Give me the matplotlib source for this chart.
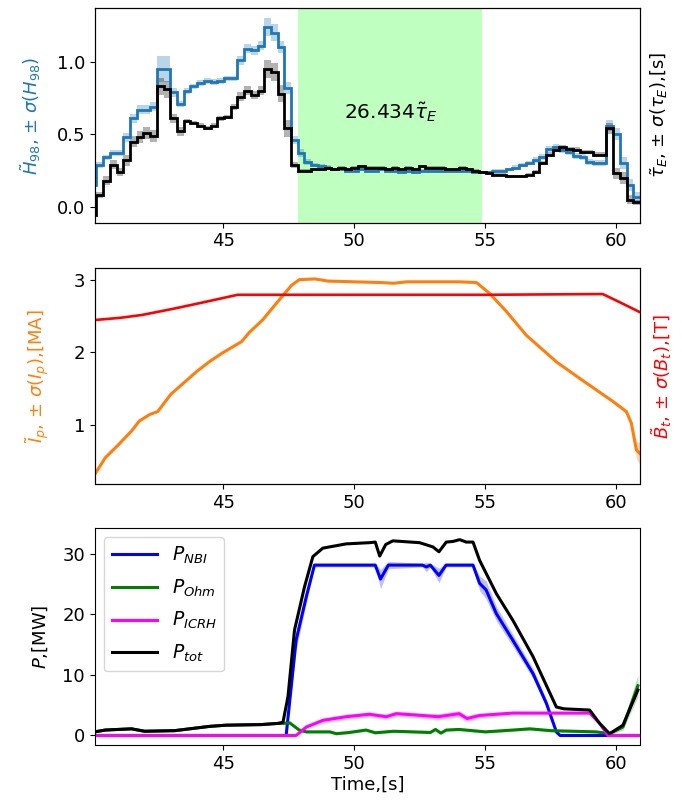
import numpy as np
import matplotlib
matplotlib.use("Agg")
import matplotlib.pyplot as plt

# ---------------- top panel: H98 and tau_E (step data on a 0.256 s grid)
t_edges = 39.908 + 0.256 * np.arange(83)

h98 = [0.15, 0.29, 0.34, 0.37, 0.37, 0.48, 0.61, 0.67, 0.67, 0.69, 0.95, 0.95, 0.79, 0.71, 0.80, 0.83,
       0.855, 0.87, 0.86, 0.87, 0.885, 0.885, 1.01, 1.09, 1.08, 1.11, 1.24, 1.20, 1.10, 0.82, 0.46, 0.37,
       0.31, 0.29, 0.28, 0.27,
       0.26, 0.26, 0.25, 0.25, 0.26, 0.25, 0.25, 0.26, 0.25, 0.25, 0.24, 0.25, 0.24, 0.25, 0.25, 0.25,
       0.25, 0.25, 0.25, 0.25, 0.25, 0.24, 0.24,
       0.24, 0.25, 0.25, 0.26, 0.27, 0.29, 0.30, 0.32, 0.345, 0.40, 0.41, 0.39, 0.38, 0.35, 0.345, 0.31,
       0.30, 0.30, 0.56, 0.50, 0.30, 0.15, 0.07]
h98_sig = [0.02, 0.02, 0.02, 0.02, 0.02, 0.03, 0.03, 0.03, 0.03, 0.03, 0.09, 0.09, 0.03, 0.02, 0.02, 0.02,
           0.02, 0.02, 0.02, 0.02, 0.02, 0.02, 0.03, 0.03, 0.03, 0.03, 0.06, 0.06, 0.04, 0.04, 0.03, 0.03,
           0.02, 0.015, 0.015, 0.015,
           0.01, 0.01, 0.01, 0.01, 0.01, 0.01, 0.01, 0.01, 0.01, 0.01, 0.01, 0.01, 0.01, 0.01, 0.01, 0.01,
           0.01, 0.01, 0.01, 0.01, 0.01, 0.01, 0.01,
           0.01, 0.01, 0.01, 0.01, 0.015, 0.015, 0.015, 0.02, 0.02, 0.02, 0.02, 0.02, 0.02, 0.02, 0.02, 0.02,
           0.02, 0.02, 0.04, 0.04, 0.04, 0.04, 0.03]
tau_e = [-0.06, 0.08, 0.18, 0.29, 0.24, 0.32, 0.45, 0.48, 0.51, 0.49, 0.83, 0.81, 0.61, 0.52, 0.59, 0.58,
         0.56, 0.545, 0.56, 0.61, 0.62, 0.69, 0.76, 0.80, 0.77, 0.80, 0.95, 0.93, 0.78, 0.54, 0.29, 0.25,
         0.25, 0.26, 0.26, 0.27, 0.26, 0.27, 0.26, 0.27, 0.28, 0.27, 0.27, 0.27, 0.26, 0.27, 0.26, 0.27,
         0.26, 0.28, 0.27, 0.27, 0.27, 0.26, 0.26, 0.27, 0.26, 0.25, 0.24,
         0.23, 0.22, 0.22, 0.21, 0.21, 0.21, 0.22, 0.24, 0.30, 0.36, 0.39, 0.41, 0.40, 0.395, 0.38, 0.38,
         0.36, 0.36, 0.54, 0.23, 0.20, 0.05, 0.03]
tau_sig = [0.02, 0.02, 0.03, 0.03, 0.03, 0.04, 0.04, 0.04, 0.04, 0.04, 0.06, 0.06, 0.03, 0.03, 0.015, 0.015,
           0.015, 0.015, 0.015, 0.015, 0.015, 0.02, 0.03, 0.03, 0.03, 0.03, 0.06, 0.06, 0.06, 0.06, 0.02, 0.01,
           0.01, 0.01, 0.01, 0.01, 0.01, 0.01, 0.01, 0.01, 0.01, 0.01, 0.01, 0.01, 0.01, 0.01, 0.01, 0.01,
           0.01, 0.01, 0.01, 0.01, 0.01, 0.01, 0.01, 0.01, 0.01, 0.01, 0.01,
           0.01, 0.01, 0.01, 0.01, 0.01, 0.01, 0.01, 0.015, 0.015, 0.015, 0.015, 0.015, 0.015, 0.015, 0.015, 0.015,
           0.02, 0.02, 0.04, 0.04, 0.04, 0.03, 0.02]

flat_start, flat_end = 47.86, 54.89
flat_label = r'$26.434\tilde{\tau}_E$'

# ---------------- middle panel: plasma current and toroidal field
t_ip = [40.1, 40.5, 41.0, 41.5, 41.8, 42.2, 42.5, 43.0, 43.5, 44.0, 44.5, 45.0, 45.7, 46.0, 46.5, 47.0,
        47.3, 47.6, 47.9, 48.5, 49.0, 50.0, 51.0, 51.5, 52.0, 53.0, 54.0, 54.66, 55.16, 55.8, 56.56, 57.71,
        58.6, 59.87, 60.38, 60.57, 60.76, 60.89]
ip = [0.31, 0.54, 0.72, 0.91, 1.05, 1.14, 1.18, 1.42, 1.58, 1.74, 1.88, 2.0, 2.15, 2.28, 2.45, 2.67,
      2.80, 2.93, 3.01, 3.02, 2.99, 2.98, 2.97, 2.96, 2.98, 2.98, 2.98, 2.97, 2.82, 2.57, 2.24, 1.87,
      1.64, 1.32, 1.18, 1.02, 0.65, 0.60]
ip_sig = [0.01, 0.01, 0.01, 0.01, 0.01, 0.01, 0.01, 0.01, 0.01, 0.01, 0.01, 0.01, 0.01, 0.01, 0.01, 0.01,
          0.01, 0.01, 0.01, 0.01, 0.01, 0.01, 0.01, 0.01, 0.01, 0.01, 0.01, 0.01, 0.01, 0.01, 0.01, 0.01,
          0.01, 0.02, 0.03, 0.05, 0.12, 0.15]

t_bt = [40.1, 41.06, 41.9, 43.15, 44.3, 45.55, 50.0, 55.0, 59.48, 60.11, 60.89]
bt = [2.45, 2.48, 2.52, 2.61, 2.70, 2.80, 2.80, 2.80, 2.81, 2.70, 2.56]

# ---------------- bottom panel: heating powers
t_nbi = [40.1, 47.40, 47.78, 48.17, 48.48, 50.8, 51.0, 51.3, 52.6, 52.75, 52.9, 53.23, 53.5, 54.53,
         54.78, 55.03, 55.42, 56.05, 56.82, 57.33, 57.71, 57.85, 60.89]
p_nbi = [0, 0, 15.7, 22.9, 28.1, 28.1, 25.8, 28.1, 28.1, 27.8, 28.1, 26.4, 28.1, 28.1,
         25.1, 24.0, 20.1, 15.7, 10.2, 5.3, 0.6, 0, 0]
p_nbi_sig = [0, 0, 1.5, 1.0, 0.3, 0.3, 1.6, 0.6, 0.3, 0.8, 0.3, 1.2, 0.3, 0.3,
             1.2, 1.5, 1.2, 1.0, 0.8, 0.6, 0.4, 0, 0]

t_ohm = [40.1, 40.5, 41.5, 42.0, 43.15, 44.47, 45.1, 46.45, 47.1, 47.28, 47.53, 47.9, 48.17, 49.07,
         49.32, 49.8, 50.45, 50.8, 51.5, 52.24, 52.9, 53.1, 53.3, 53.51, 54.0, 55.0, 56.05, 56.7, 57.5,
         59.23, 59.74, 60.25, 60.82]
p_ohm = [0.6, 0.9, 1.1, 0.7, 0.8, 1.5, 1.7, 1.8, 2.0, 2.0, 2.1, 0.9, 0.6, 0.6,
         0.3, 0.5, 0.9, 0.45, 0.7, 0.6, 0.5, 1.0, 0.4, 0.9, 1.0, 0.6, 0.9, 1.1, 0.8,
         0.6, 0.3, 1.4, 8.2]
p_ohm_sig = [0.1, 0.1, 0.1, 0.1, 0.1, 0.1, 0.1, 0.1, 0.1, 0.2, 0.2, 0.2, 0.2, 0.2,
             0.2, 0.2, 0.2, 0.2, 0.2, 0.2, 0.2, 0.2, 0.2, 0.2, 0.2, 0.2, 0.2, 0.2, 0.2,
             0.2, 0.2, 0.5, 1.8]

t_icrh = [40.1, 47.78, 48.17, 48.8, 49.69, 50.58, 51.22, 51.6, 52.6, 53.2, 54.0, 54.3, 54.78, 56.05,
          58.98, 59.36, 59.68, 60.89]
p_icrh = [0, 0, 1.4, 2.5, 3.1, 3.5, 3.1, 3.6, 3.3, 3.1, 3.6, 2.8, 3.3, 3.7,
          3.7, 2.0, 0.0, 0.0]
p_icrh_sig = [0, 0, 0.3, 0.4, 0.4, 0.4, 0.4, 0.4, 0.4, 0.5, 0.5, 0.5, 0.4, 0.3,
              0.2, 0.2, 0, 0]

t_tot = [40.1, 40.5, 41.5, 42.0, 43.15, 44.47, 45.1, 46.45, 47.1, 47.28, 47.47, 47.72, 48.10, 48.42,
         48.80, 49.69, 50.58, 50.8, 50.97, 51.2, 51.47, 52.49, 53.0, 53.23, 53.51, 53.76, 54.02, 54.27,
         54.53, 54.78, 55.42, 56.05, 56.82, 57.71, 58.0, 58.98, 59.36, 59.74, 60.25, 60.82]
p_tot = [0.6, 0.9, 1.1, 0.7, 0.8, 1.5, 1.7, 1.8, 2.0, 2.2, 6.4, 17.4, 24.5, 29.5,
         30.9, 31.6, 31.8, 31.9, 29.6, 31.5, 32.1, 31.8, 31.1, 30.3, 31.9, 32.0, 32.3, 31.9,
         31.9, 28.9, 23.4, 19.0, 13.0, 4.7, 4.4, 4.2, 2.0, 0.3, 1.7, 7.5]

# ------------------------------------------------------------------
plt.rcParams['font.size'] = 13
fig = plt.figure(figsize=(6.82, 8.10), dpi=100)
left, width = 0.139, 0.799
ax1 = fig.add_axes([left, 0.725, width, 0.265])
ax2 = fig.add_axes([left, 0.402, width, 0.267])
ax3 = fig.add_axes([left, 0.080, width, 0.268])
xlim = (40.1, 60.89)

# top
h98 = np.array(h98); h98_sig = np.array(h98_sig)
tau_e = np.array(tau_e); tau_sig = np.array(tau_sig)
ax1.axvspan(flat_start, flat_end, color='lime', alpha=0.25, lw=0)
ax1.stairs(h98 + h98_sig, t_edges, baseline=h98 - h98_sig, fill=True, color='tab:blue', alpha=0.3, lw=0)
ax1.stairs(tau_e + tau_sig, t_edges, baseline=tau_e - tau_sig, fill=True, color='black', alpha=0.3, lw=0)
ax1.stairs(h98, t_edges, baseline=None, color='tab:blue', lw=2)
ax1.stairs(tau_e, t_edges, baseline=None, color='black', lw=2)
ax1.text((flat_start + flat_end) / 2, 0.65, flat_label, ha='center', va='center', fontsize=14.5)
ax1.set_xlim(xlim)
ax1.set_ylim(-0.11, 1.37)
ax1.set_yticks([0.0, 0.5, 1.0])
ax1.set_ylabel(r'$\tilde{H}_{98}$, $\pm$ $\sigma(H_{98})$', color='tab:blue', labelpad=10)
ax1r = ax1.twinx()
ax1r.set_yticks([])
ax1r.set_ylabel(r'$\tilde{\tau}_E$, $\pm$ $\sigma(\tau_E)$,[s]', color='black', labelpad=6)

# middle
ip = np.array(ip); ip_sig = np.array(ip_sig)
ax2.fill_between(t_ip, ip - ip_sig, ip + ip_sig, color='tab:orange', alpha=0.3, lw=0)
ax2.plot(t_ip, ip, color='tab:orange', lw=2.2)
ax2.plot(t_bt, bt, color='red', lw=1.9)
ax2.set_xlim(xlim)
ax2.set_ylim(0.17, 3.17)
ax2.set_yticks([1, 2, 3])
ax2.set_ylabel(r'$\tilde{I}_p$, $\pm$ $\sigma(I_p)$,[MA]', color='tab:orange', labelpad=16)
ax2r = ax2.twinx()
ax2r.set_yticks([])
ax2r.set_ylabel(r'$\tilde{B}_t$, $\pm$ $\sigma(B_t)$,[T]', color='red', labelpad=7)

# bottom
series = [
    (t_nbi, p_nbi, p_nbi_sig, 'blue', r'$P_{NBI}$'),
    (t_ohm, p_ohm, p_ohm_sig, 'green', r'$P_{Ohm}$'),
    (t_icrh, p_icrh, p_icrh_sig, 'magenta', r'$P_{ICRH}$'),
]
for t, p, s, c, lab in series:
    p = np.array(p); s = np.array(s)
    ax3.fill_between(t, p - s, p + s, color=c, alpha=0.25, lw=0)
    ax3.plot(t, p, color=c, lw=2.2, label=lab)
ax3.plot(t_tot, p_tot, color='black', lw=2.2, label=r'$P_{tot}$')
ax3.set_xlim(xlim)
ax3.set_ylim(-1.6, 34.2)
ax3.set_yticks([0, 10, 20, 30])
ax3.set_ylabel(r'$P$,[MW]', labelpad=9)
ax3.set_xlabel('Time,[s]', labelpad=2)
leg = ax3.legend(loc='upper left', fontsize=13.5, labelspacing=0.6, handlelength=2.4)
for line in leg.get_lines():
    line.set_linewidth(2.2)

for ax in (ax1, ax2, ax3):
    ax.set_xticks([45, 50, 55, 60])

fig.savefig('out.png', dpi=100)
